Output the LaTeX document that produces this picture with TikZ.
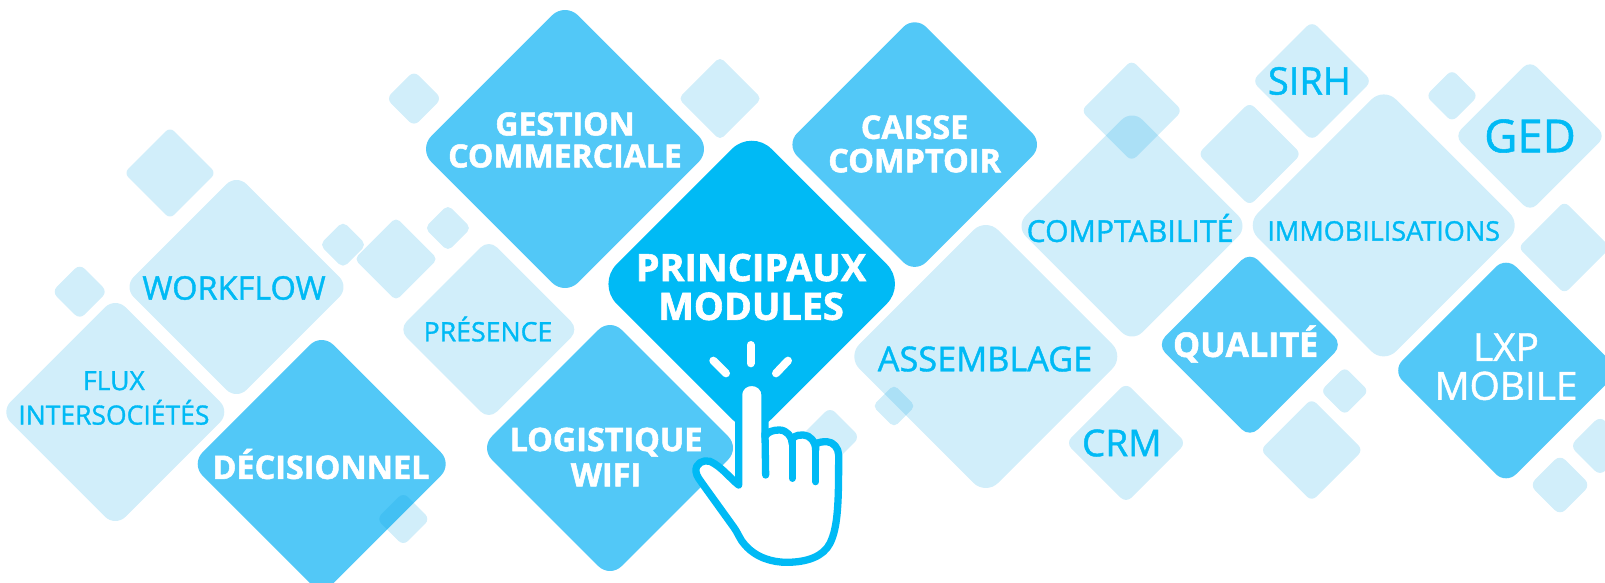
\documentclass[tikz,border=0pt]{standalone}
\usepackage{fontspec}
\setmainfont{Open Sans}[BoldFeatures={FakeBold=1.6}]
\newfontfamily\semifont{Open Sans}[FakeBold=1.2]
\usepackage{xcolor}
\definecolor{deep}{HTML}{00BAF5}
\definecolor{mid}{HTML}{52C8F7}
\definecolor{wash}{HTML}{00A0E3}
\tikzset{
	tile/.style={rectangle,rotate=45,inner sep=0pt,minimum size={1.492*#1pt},rounded corners={.133*#1pt}},
	small tile/.style={rectangle,rotate=45,inner sep=0pt,minimum size={1.57*#1pt},rounded corners={.27*#1pt}},
	pale/.style={fill=wash,fill opacity=.18},
	solid tile/.style={fill=mid},
	strong/.style={align=center,text=white,inner sep=0pt,font=\bfseries\fontsize{#1}{#1}\selectfont},
	soft/.style={align=center,text=deep,inner sep=0pt,font=\semifont\fontsize{#1}{#1}\selectfont},
	hand/.style={draw=deep,line width=7.3pt,line cap=round,line join=round},
	spark/.style={draw=white,line width=8pt,line cap=round}
}
\begin{document}
\begin{tikzpicture}[x=1pt,y=-1pt]
	\useasboundingbox (0,0) rectangle (1605,583);
	
	% solid tiles
	\node[tile=139,solid tile] (gestion) at (565,149) {};
	\node[tile=122.3,solid tile] (caisse) at (914.7,144.6) {};
	\node[tile=124,solid tile] (decision) at (321.7,464) {};
	\node[tile=123,solid tile] (logist) at (610,448) {};
	\node[tile=88,solid tile] (qualite) at (1249.8,344.7) {};
	\node[tile=107.8,solid tile] (lxp) at (1506,370.5) {};
	\node[rectangle,rotate=45,inner sep=0pt,minimum size=219pt,rounded corners=28pt,fill=deep] (princ) at (751.7,284) {};
	
	% pale tiles with a label
	\node[tile=107,pale] (workflow) at (236.5,287) {};
	\node[tile=109,pale] (flux) at (115.3,412) {};
	\node[tile=85.5,pale] (presence) at (488.8,329.5) {};
	\node[tile=110.5,pale] (compta) at (1132,226) {};
	\node[tile=131.5,pale] (assemb) at (985.8,356.5) {};
	\node[tile=57,pale] (crm) at (1126,442.9) {};
	\node[tile=56.8,pale] (sirh) at (1312,81) {};
	\node[tile=131,pale] (immo) at (1383.7,225.4) {};
	\node[tile=71.7,pale] (ged) at (1530,136) {};
	
	% pale tiles without a label
	\foreach \x/\y/\e [count=\i] in {170/173/43.5,720/98.5/39.5,396/259/39.5,1131.7/110.7/48,
		1249.6/154/49,1564.4/247.5/43.7,1311.7/450/48.7}
		\node[tile=\e,pale] (decob\i) at (\x,\y) {};
	\foreach \x/\y/\e [count=\i] in {79.7/291.7/25,403.3/519/24,414/98.6/25,343/244.7/21,447.9/228/21,
		894/406/19.3,830/437/27,1452/95.8/23.6,1344.7/391/21.6,1560/485/27.3,1600/445.9/27}
		\node[small tile=\e,pale] (decos\i) at (\x,\y) {};
	
	% labels
	\node[strong=32] (tgestion) at (565,140) {GESTION\\COMMERCIALE};
	\node[strong=32.4] (tcaisse) at (914.6,144) {CAISSE\\[1pt]COMPTOIR};
	\node[strong=37.8] (tprinc) at (751,287) {PRINCIPAUX\\[1pt]MODULES};
	\node[strong=32.4] (tdecision) at (321,464) {DÉCISIONNEL};
	\node[strong=32.3] (tlogist) at (606,457) {LOGISTIQUE\\[3pt]WIFI};
	\node[strong=34] (tqualite) at (1245.6,344) {QUALITÉ};
	\node[soft=32.5] (tworkflow) at (234,288) {WORKFLOW};
	\node[soft=26.5] (tflux) at (113.9,398) {FLUX\\[8pt]INTERSOCIÉTÉS};
	\node[soft=26.7] (tpresence) at (488,329) {PRÉSENCE};
	\node[soft=30.2] (tcompta) at (1130,228) {COMPTABILITÉ};
	\node[soft=27] (timmo) at (1383.7,231) {IMMOBILISATIONS};
	\node[soft=34.3] (tassemb) at (985,359) {ASSEMBLAGE};
	\node[soft=37] (tcrm) at (1121.8,443) {CRM};
	\node[soft=38] (tsirh) at (1309.4,81) {SIRH};
	\node[soft=45.5] (tged) at (1530,136) {GED};
	\node[soft=38.8,text=white] (tlxp) at (1506,366.7) {LXP\\MOBILE};
	
	% pointing hand
	\begin{scope}[shift={(650,320)},x=.3333pt,y=-.3333pt]
		\draw[hand,fill=white] (266,495) -- (266,225) .. controls (266,200) and (285,187) .. (305,187)
			.. controls (325,187) and (345,200) .. (345,225) -- (345,350)
			.. controls (352,335) and (370,330) .. (388,330) .. controls (410,330) and (427,350) .. (427,372)
			-- (427,355) .. controls (440,345) and (450,344) .. (460,345) .. controls (480,345) and (497,365) .. (497,390)
			-- (497,372) .. controls (510,365) and (520,365) .. (530,365) .. controls (550,365) and (566,385) .. (566,405)
			.. controls (566,540) and (565,620) .. (540,670) .. controls (520,710) and (470,727) .. (410,727)
			.. controls (370,727) and (320,715) .. (285,675) .. controls (270,660) and (265,640) .. (250,620)
			-- (160,495) .. controls (150,480) and (140,470) .. (138,455) .. controls (135,430) and (160,418) .. (180,424)
			.. controls (215,440) and (240,475) .. (266,495) -- cycle;
		\draw[hand] (345,340) -- (347,465);
		\draw[hand] (427,365) -- (427,475);
		\draw[hand] (497,385) -- (497,485);
		\draw[spark] (302,75) -- (302,130);
		\draw[spark] (190,122) -- (228,160);
		\draw[spark] (414,122) -- (378,160);
	\end{scope}
	
\end{tikzpicture}
\end{document}
